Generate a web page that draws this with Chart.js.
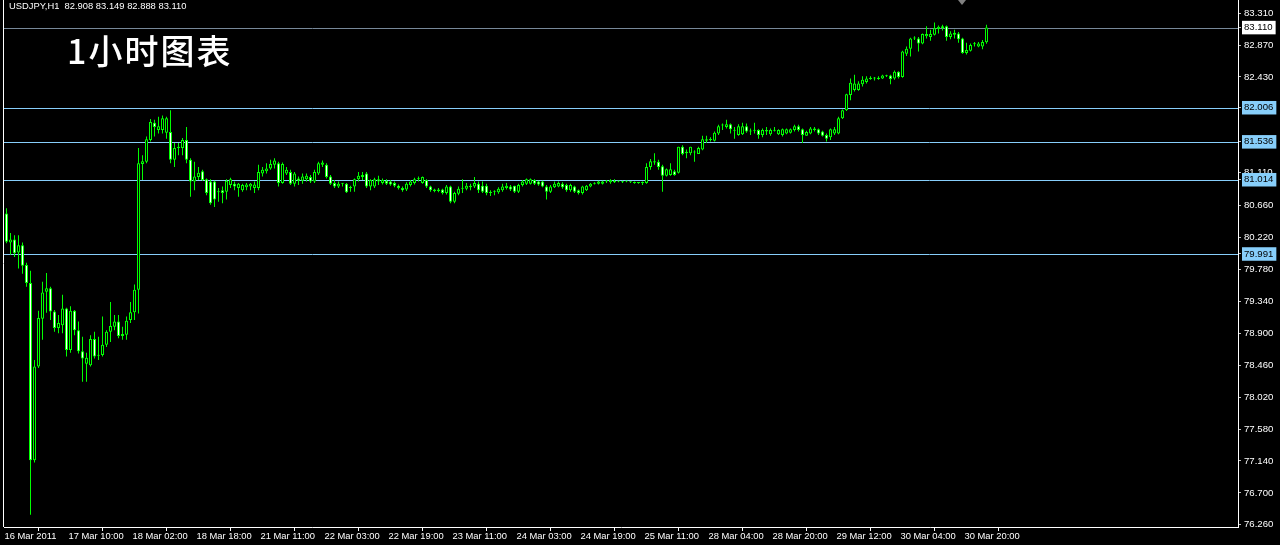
<!DOCTYPE html>
<html>
<head>
<meta charset="utf-8">
<script src="https://cdn.jsdelivr.net/npm/chart.js@4.4.1/dist/chart.umd.min.js"></script>
<style>
  html, body { margin: 0; padding: 0; background: #000; }
  canvas { display: block; }
</style>
</head>
<body>
<canvas id="chart" width="1280" height="545"></canvas>
<script>
// USDJPY H1, 16 Mar 2011 18:00 -> 31 Mar 2011 01:00 (one value per hourly bar)
const opens = [
  80.55, 80.15, 80.19, 80.01, 80.11, 79.84, 79.59, 77.15, 78.44, 79.10,
  79.47, 79.52, 79.20, 78.97, 79.01, 79.24, 78.67, 79.21, 78.94, 78.65,
  78.48, 78.46, 78.82, 78.60, 78.60, 78.74, 78.92, 78.99, 79.06, 78.89,
  78.88, 79.08, 79.19, 79.50, 81.23, 81.26, 81.56, 81.80, 81.70, 81.70,
  81.66, 81.67, 81.29, 81.47, 81.45, 81.56, 81.29, 80.99, 81.05, 81.13,
  81.02, 80.99, 80.99, 80.85, 80.87, 80.85, 80.94, 80.96, 80.90, 80.87,
  80.91, 80.92, 80.90, 80.90, 81.10, 81.13, 81.17, 81.22, 81.24, 80.97,
  81.10, 81.12, 80.96, 81.03, 81.00, 81.02, 81.05, 80.99, 81.10, 81.22,
  81.22, 81.06, 80.97, 80.92, 80.96, 80.96, 80.91, 80.92, 81.02, 81.08,
  81.10, 80.92, 80.92, 81.02, 80.97, 81.00, 80.99, 80.97, 80.93, 80.90,
  80.88, 80.94, 80.97, 81.03, 80.97, 81.01, 80.92, 80.88, 80.86, 80.88,
  80.83, 80.92, 80.71, 80.82, 80.89, 80.89, 80.93, 80.92, 80.96, 80.93,
  80.93, 80.84, 80.85, 80.84, 80.87, 80.90, 80.92, 80.93, 80.85, 80.94,
  80.96, 80.96, 81.01, 80.99, 80.99, 80.92, 80.85, 80.91, 80.92, 80.96,
  80.94, 80.87, 80.92, 80.87, 80.83, 80.87, 80.92, 80.96, 80.96, 80.96,
  80.99, 80.98, 81.00, 80.99, 80.99, 80.99, 80.98, 80.98, 80.97, 80.97,
  80.97, 81.19, 81.27, 81.26, 81.20, 81.07, 81.08, 81.13, 81.11, 81.47,
  81.40, 81.38, 81.39, 81.37, 81.43, 81.57, 81.56, 81.55, 81.65, 81.76,
  81.74, 81.78, 81.69, 81.63, 81.64, 81.75, 81.69, 81.69, 81.70, 81.63,
  81.70, 81.64, 81.69, 81.64, 81.63, 81.65, 81.66, 81.70, 81.75, 81.71,
  81.62, 81.65, 81.72, 81.71, 81.68, 81.63, 81.60, 81.65, 81.65, 81.86,
  81.97, 82.18, 82.25, 82.25, 82.33, 82.36, 82.42, 82.41, 82.40, 82.41,
  82.44, 82.45, 82.41, 82.50, 82.43, 82.75, 82.82, 82.96, 82.96, 82.89,
  82.99, 82.98, 83.01, 83.09, 83.13, 83.13, 82.98, 83.01, 83.03, 82.96,
  82.76, 82.79, 82.88, 82.85, 82.85, 82.908
];
const highs = [
  80.62, 80.28, 80.25, 80.25, 80.15, 79.87, 79.76, 78.53, 79.21, 79.61,
  79.73, 79.54, 79.22, 79.15, 79.43, 79.25, 79.27, 79.22, 79.06, 78.85,
  78.63, 78.87, 78.92, 78.85, 79.13, 78.94, 79.33, 79.15, 79.15, 78.99,
  79.13, 79.33, 79.57, 81.45, 81.35, 81.61, 81.85, 81.84, 81.88, 81.90,
  81.88, 81.97, 81.52, 81.52, 81.59, 81.74, 81.31, 81.26, 81.19, 81.15,
  81.03, 81.02, 81.00, 80.90, 80.92, 81.02, 81.04, 80.99, 80.97, 80.96,
  80.97, 80.97, 80.99, 81.22, 81.19, 81.24, 81.29, 81.31, 81.26, 81.25,
  81.19, 81.15, 81.12, 81.06, 81.10, 81.10, 81.08, 81.15, 81.26, 81.28,
  81.24, 81.08, 81.01, 80.99, 80.97, 80.97, 80.93, 81.03, 81.12, 81.12,
  81.12, 81.02, 81.04, 81.07, 81.03, 81.02, 81.01, 80.99, 80.95, 80.92,
  80.98, 81.01, 81.04, 81.06, 81.06, 81.02, 80.93, 80.89, 80.90, 80.89,
  80.94, 80.93, 80.85, 80.92, 81.02, 80.97, 80.96, 81.05, 80.99, 80.99,
  80.96, 80.87, 80.87, 80.91, 80.96, 80.97, 80.94, 80.93, 80.96, 81.01,
  81.03, 81.03, 81.02, 81.00, 81.00, 80.94, 80.94, 80.99, 80.99, 80.98,
  80.96, 80.96, 80.93, 80.88, 80.93, 80.94, 80.97, 80.98, 81.00, 81.00,
  81.01, 81.02, 81.02, 81.00, 81.00, 81.00, 80.99, 80.99, 80.98, 80.99,
  81.24, 81.30, 81.38, 81.29, 81.22, 81.17, 81.24, 81.15, 81.47, 81.49,
  81.43, 81.47, 81.42, 81.47, 81.62, 81.62, 81.60, 81.68, 81.77, 81.79,
  81.84, 81.79, 81.74, 81.78, 81.80, 81.79, 81.72, 81.80, 81.71, 81.72,
  81.74, 81.72, 81.74, 81.71, 81.72, 81.72, 81.72, 81.77, 81.77, 81.72,
  81.69, 81.74, 81.74, 81.72, 81.69, 81.65, 81.72, 81.74, 81.88, 81.98,
  82.20, 82.41, 82.46, 82.37, 82.44, 82.44, 82.44, 82.43, 82.44, 82.46,
  82.46, 82.46, 82.52, 82.51, 82.79, 82.85, 82.97, 82.99, 82.98, 83.03,
  83.13, 83.08, 83.18, 83.14, 83.15, 83.14, 83.06, 83.08, 83.05, 82.97,
  82.90, 82.89, 82.91, 82.91, 82.94, 83.149
];
const lows = [
  80.14, 79.98, 79.95, 79.79, 79.72, 79.54, 76.40, 77.12, 78.42, 78.81,
  79.18, 79.08, 78.92, 78.90, 78.90, 78.58, 78.63, 78.87, 78.62, 78.23,
  78.23, 78.44, 78.55, 78.53, 78.58, 78.71, 78.78, 78.94, 78.83, 78.81,
  78.81, 79.04, 79.08, 79.17, 81.01, 81.24, 81.54, 81.61, 81.65, 81.65,
  81.58, 81.24, 81.19, 81.35, 81.35, 81.24, 80.78, 80.87, 81.01, 81.00,
  80.80, 80.67, 80.64, 80.71, 80.69, 80.74, 80.90, 80.87, 80.78, 80.85,
  80.87, 80.87, 80.83, 80.87, 81.06, 81.10, 81.15, 81.17, 80.92, 80.96,
  81.08, 80.94, 80.92, 80.94, 80.96, 80.99, 80.97, 80.97, 81.08, 81.19,
  81.03, 80.94, 80.90, 80.90, 80.92, 80.83, 80.85, 80.85, 80.99, 81.01,
  80.90, 80.87, 80.90, 80.94, 80.95, 80.94, 80.93, 80.91, 80.88, 80.85,
  80.86, 80.92, 80.95, 80.99, 80.96, 80.90, 80.85, 80.84, 80.84, 80.81,
  80.81, 80.69, 80.69, 80.80, 80.83, 80.87, 80.87, 80.90, 80.83, 80.83,
  80.80, 80.79, 80.80, 80.82, 80.85, 80.88, 80.86, 80.83, 80.83, 80.92,
  80.94, 80.95, 80.94, 80.93, 80.91, 80.74, 80.83, 80.90, 80.91, 80.89,
  80.85, 80.85, 80.83, 80.81, 80.81, 80.86, 80.91, 80.95, 80.95, 80.95,
  80.97, 80.96, 80.97, 80.98, 80.97, 80.98, 80.97, 80.96, 80.96, 80.94,
  80.96, 81.15, 81.22, 81.15, 80.85, 81.06, 81.07, 81.07, 81.10, 81.35,
  81.31, 81.35, 81.26, 81.37, 81.42, 81.52, 81.54, 81.54, 81.63, 81.70,
  81.72, 81.65, 81.58, 81.62, 81.63, 81.66, 81.63, 81.65, 81.58, 81.60,
  81.63, 81.62, 81.68, 81.63, 81.61, 81.64, 81.65, 81.68, 81.68, 81.52,
  81.62, 81.64, 81.68, 81.63, 81.61, 81.54, 81.56, 81.63, 81.64, 81.85,
  81.96, 82.11, 82.23, 82.24, 82.30, 82.34, 82.39, 82.38, 82.39, 82.40,
  82.43, 82.33, 82.39, 82.41, 82.42, 82.72, 82.71, 82.94, 82.78, 82.88,
  82.96, 82.93, 83.00, 83.03, 83.07, 82.93, 82.95, 82.96, 82.90, 82.75,
  82.74, 82.78, 82.85, 82.84, 82.81, 82.888
];
const closes = [
  80.16, 80.19, 80.00, 80.11, 79.83, 79.59, 77.15, 78.44, 79.11, 79.46,
  79.52, 79.20, 78.97, 79.04, 79.24, 78.67, 79.21, 78.94, 78.65, 78.55,
  78.56, 78.82, 78.58, 78.59, 78.74, 78.92, 79.00, 79.06, 78.86, 78.86,
  79.07, 79.19, 79.50, 81.24, 81.27, 81.57, 81.81, 81.74, 81.75, 81.86,
  81.86, 81.29, 81.45, 81.45, 81.56, 81.29, 80.99, 81.06, 81.11, 81.01,
  80.83, 80.69, 80.74, 80.84, 80.83, 81.00, 81.02, 80.92, 80.96, 80.94,
  80.95, 80.96, 80.95, 81.12, 81.15, 81.17, 81.23, 81.28, 80.97, 81.23,
  81.15, 80.96, 81.10, 81.00, 81.06, 81.07, 80.99, 81.12, 81.24, 81.25,
  81.05, 80.96, 80.92, 80.96, 80.96, 80.84, 80.90, 81.02, 81.07, 81.05,
  80.92, 81.01, 81.02, 80.99, 81.01, 80.96, 80.95, 80.93, 80.90, 80.87,
  80.96, 80.99, 81.02, 81.02, 81.05, 80.92, 80.87, 80.86, 80.88, 80.83,
  80.92, 80.71, 80.83, 80.89, 80.89, 80.93, 80.91, 80.97, 80.87, 80.85,
  80.83, 80.83, 80.85, 80.89, 80.92, 80.93, 80.88, 80.85, 80.94, 80.99,
  81.02, 81.02, 80.96, 80.95, 80.92, 80.85, 80.92, 80.96, 80.97, 80.91,
  80.87, 80.94, 80.85, 80.83, 80.92, 80.93, 80.96, 80.97, 80.99, 80.99,
  80.99, 81.01, 80.98, 80.99, 80.98, 80.99, 80.98, 80.97, 80.97, 80.98,
  81.19, 81.27, 81.25, 81.19, 81.07, 81.16, 81.16, 81.08, 81.47, 81.37,
  81.38, 81.47, 81.39, 81.45, 81.57, 81.55, 81.57, 81.66, 81.75, 81.77,
  81.78, 81.71, 81.69, 81.75, 81.75, 81.68, 81.68, 81.69, 81.63, 81.70,
  81.68, 81.70, 81.69, 81.70, 81.71, 81.71, 81.71, 81.75, 81.70, 81.63,
  81.67, 81.72, 81.70, 81.65, 81.62, 81.58, 81.71, 81.71, 81.86, 81.97,
  82.19, 82.35, 82.34, 82.34, 82.39, 82.41, 82.40, 82.41, 82.42, 82.45,
  82.44, 82.40, 82.50, 82.43, 82.78, 82.82, 82.96, 82.97, 82.89, 83.02,
  83.02, 83.02, 83.10, 83.12, 83.10, 82.98, 83.03, 83.04, 82.95, 82.76,
  82.80, 82.87, 82.88, 82.89, 82.91, 83.110
];

// time axis: one label every 16 bars
const LABEL_STEP = 16;
const timeLabels = [
  '16 Mar 2011', '17 Mar 10:00', '18 Mar 02:00', '18 Mar 18:00',
  '21 Mar 11:00', '22 Mar 03:00', '22 Mar 19:00', '23 Mar 11:00',
  '24 Mar 03:00', '24 Mar 19:00', '25 Mar 11:00', '28 Mar 04:00',
  '28 Mar 20:00', '29 Mar 12:00', '30 Mar 04:00', '30 Mar 20:00'
];

// price axis labels
const priceTicks = [
  83.310, 82.870, 82.430, 81.110, 80.660, 80.220, 79.780, 79.340,
  78.900, 78.460, 78.020, 77.580, 77.140, 76.700, 76.260
];
const bidPrice = 83.110;
const levelPrices = [82.006, 81.536, 81.014, 79.991];

const Y_MIN = 76.23, Y_MAX = 83.49;
const X_MIN = -0.625, X_MAX = 307.875;

const LIME = '#00ff00';
const LEVEL_BLUE = '#87cefa';
const BID_GRAY = '#778899';
const FONT = 'Liberation Sans, Arial, sans-serif';

const wickData = highs.map((h, i) => ({ x: i, y: [lows[i], h] }));
const bodyData = opens.map((o, i) => ({ x: i, y: [o, closes[i]] }));
const bodyColors = opens.map((o, i) => closes[i] >= o ? '#000000' : '#ffffff');

const isLevel = v => levelPrices.includes(v);
const isBid = v => v === bidPrice;

const mtOverlay = {
  id: 'mtOverlay',
  beforeDatasetsDraw(chart) {
    const ctx = chart.ctx, area = chart.chartArea, y = chart.scales.y;
    ctx.save();
    ctx.lineWidth = 1;
    [bidPrice].concat(levelPrices).forEach(p => {
      const py = Math.round(y.getPixelForValue(p)) + 0.5;
      ctx.strokeStyle = isBid(p) ? BID_GRAY : LEVEL_BLUE;
      ctx.beginPath();
      ctx.moveTo(area.left, py);
      ctx.lineTo(area.right, py);
      ctx.stroke();
    });
    ctx.restore();
  },
  afterDraw(chart) {
    const ctx = chart.ctx, area = chart.chartArea;
    ctx.save();
    // left frame
    ctx.strokeStyle = '#ffffff';
    ctx.lineWidth = 1;
    ctx.beginPath();
    ctx.moveTo(area.left - 0.5, 0);
    ctx.lineTo(area.left - 0.5, area.bottom);
    ctx.stroke();
    // chart shift marker
    ctx.fillStyle = '#808080';
    ctx.beginPath();
    ctx.moveTo(958, 0);
    ctx.lineTo(966, 0);
    ctx.lineTo(962, 5);
    ctx.closePath();
    ctx.fill();
    // header
    ctx.fillStyle = '#ffffff';
    ctx.textBaseline = 'middle';
    ctx.font = '9.4px ' + FONT;
    ctx.fillText('USDJPY,H1  ' + [opens[opens.length - 1], highs[highs.length - 1],
      lows[lows.length - 1], closes[closes.length - 1]].map(v => v.toFixed(3)).join(' '), 9, 6);
    ctx.font = '500 34px "Noto Sans CJK SC", sans-serif';
    ctx.letterSpacing = '2px';
    ctx.fillText('1小时图表', 67, 51);
    ctx.restore();
  }
};

new Chart(document.getElementById('chart'), {
  type: 'bar',
  data: {
    datasets: [
      {
        label: 'wick',
        data: wickData,
        backgroundColor: LIME,
        borderWidth: 0,
        maxBarThickness: 1,
        barPercentage: 1,
        categoryPercentage: 1,
        minBarLength: 1,
        grouped: false,
        inflateAmount: 0,
        order: 1
      },
      {
        label: 'body',
        data: bodyData,
        backgroundColor: bodyColors,
        borderColor: LIME,
        borderWidth: 1,
        borderSkipped: false,
        maxBarThickness: 3,
        barPercentage: 1,
        categoryPercentage: 1,
        minBarLength: 1,
        grouped: false,
        inflateAmount: 0,
        order: 0
      }
    ]
  },
  options: {
    responsive: false,
    animation: false,
    devicePixelRatio: 1,
    layout: { padding: { left: 4, top: 0, right: 0, bottom: 0 } },
    plugins: {
      legend: { display: false },
      tooltip: { enabled: false },
      title: { display: false }
    },
    scales: {
      x: {
        type: 'linear',
        min: X_MIN,
        max: X_MAX,
        offset: false,
        afterBuildTicks: scale => {
          scale.ticks = timeLabels.map((_, k) => ({ value: k * LABEL_STEP }));
        },
        afterFit: scale => {
          scale.height = 18;
          scale.paddingLeft = 0;
          scale.paddingRight = 0;
        },
        grid: {
          drawOnChartArea: false,
          drawTicks: true,
          tickLength: 4,
          tickColor: '#ffffff'
        },
        border: { display: true, color: '#ffffff', width: 1 },
        ticks: {
          autoSkip: false,
          maxRotation: 0,
          align: 'start',
          labelOffset: -2,
          padding: 0,
          color: '#ffffff',
          font: { family: FONT, size: 9.4 },
          callback: v => timeLabels[Math.round(v / LABEL_STEP)]
        }
      },
      y: {
        type: 'linear',
        position: 'right',
        min: Y_MIN,
        max: Y_MAX,
        afterBuildTicks: scale => {
          scale.ticks = priceTicks.concat([bidPrice], levelPrices).map(v => ({ value: v }));
        },
        afterFit: scale => {
          scale.width = 42;
          scale.paddingTop = 0;
          scale.paddingBottom = 0;
        },
        grid: {
          drawOnChartArea: false,
          drawTicks: true,
          tickLength: 3,
          tickColor: '#c0c0c0'
        },
        border: { display: true, color: '#ffffff', width: 1 },
        ticks: {
          autoSkip: false,
          padding: 3,
          font: { family: FONT, size: 9.6 },
          color: ctx => (isLevel(ctx.tick.value) || isBid(ctx.tick.value)) ? '#000000' : '#ffffff',
          showLabelBackdrop: ctx => isLevel(ctx.tick.value) || isBid(ctx.tick.value),
          backdropColor: ctx => isBid(ctx.tick.value) ? '#ffffff' : LEVEL_BLUE,
          backdropPadding: { top: 1, bottom: 1, left: 2, right: 3 },
          callback: v => v.toFixed(3)
        }
      }
    }
  },
  plugins: [mtOverlay]
});
</script>
</body>
</html>
